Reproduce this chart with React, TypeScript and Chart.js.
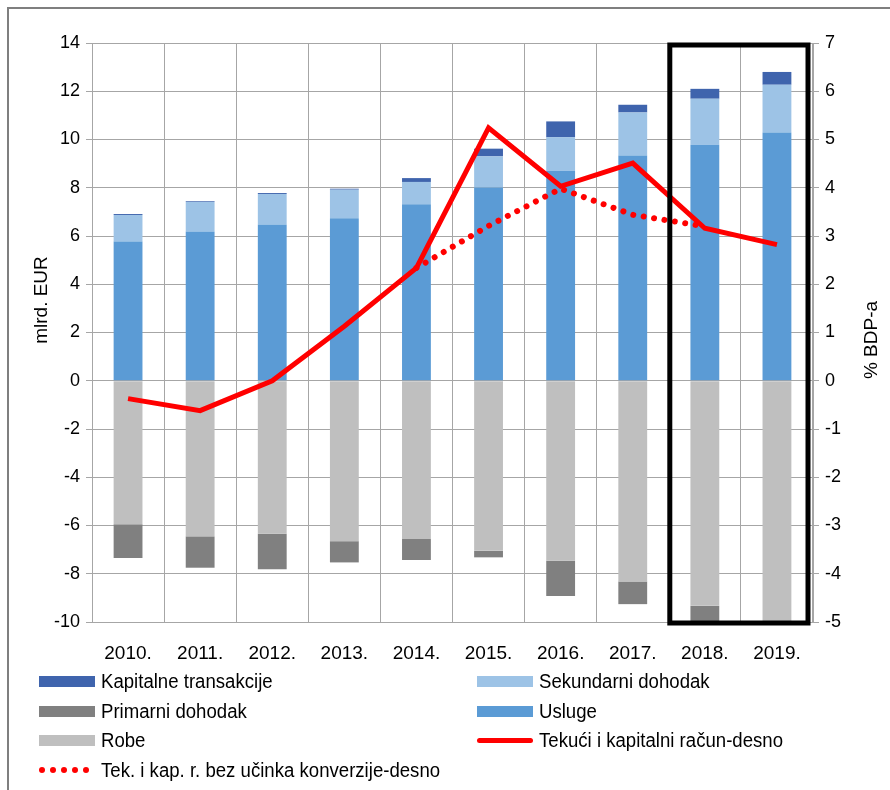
import React, { useEffect, useRef } from "react";
import { Chart, registerables } from "chart.js";

Chart.register(...registerables);

const years = ["2010.", "2011.", "2012.", "2013.", "2014.", "2015.", "2016.", "2017.", "2018.", "2019."];
const robe = [-5.95, -6.45, -6.34, -6.65, -6.56, -7.05, -7.46, -8.32, -9.33, -10.4];
const primarni = [-1.4, -1.3, -1.47, -0.88, -0.87, -0.27, -1.46, -0.94, -0.8, -0.6];
const usluge = [5.77, 6.19, 6.48, 6.74, 7.32, 8.01, 8.7, 9.34, 9.78, 10.29];
const sekundarni = [1.1, 1.22, 1.26, 1.18, 0.92, 1.29, 1.39, 1.78, 1.91, 1.98];
const kapitalne = [0.04, 0.03, 0.04, 0.04, 0.16, 0.32, 0.66, 0.32, 0.41, 0.53];
const tekuci = [-0.37, -0.62, 0.0, 1.13, 2.34, 5.24, 4.03, 4.51, 3.16, 2.82];
const bezKonverzije = [null, null, null, null, 2.34, 3.21, 3.98, 3.44, 3.2, null];

const leftTitle = "mlrd. EUR";
const rightTitle = "% BDP-a";

const FONT = "'Liberation Sans Narrow', 'Liberation Sans', Arial, sans-serif";

const C_KAP = "#3F64AD";
const C_SEK = "#9DC3E6";
const C_PRIM = "#808080";
const C_USL = "#5B9BD5";
const C_ROBE = "#BFBFBF";
const C_RED = "#FF0000";

const overlay = {
  id: "overlay",
  afterDatasetsDraw(chart: any) {
    const { ctx, chartArea, scales } = chart;
    const x = scales.x;
    const c7 = x.getPixelForValue(7);
    const c8 = x.getPixelForValue(8);
    const left = (c7 + c8) / 2 + 1;
    const right = chartArea.right - 5;
    const top = chartArea.top + 2;
    const bottom = chartArea.bottom + 1;
    ctx.save();
    ctx.strokeStyle = "#000";
    ctx.lineWidth = 5;
    ctx.strokeRect(left, top, right - left, bottom - top);
    ctx.restore();
  },
  afterDraw(chart: any) {
    const { ctx } = chart;
    ctx.save();
    ctx.fillStyle = "#000";
    ctx.font = `19px ${FONT}`;
    ctx.textAlign = "center";
    ctx.textBaseline = "middle";
    ctx.translate(42, 300);
    ctx.rotate(-Math.PI / 2);
    ctx.fillText(leftTitle, 0, 0);
    ctx.restore();
    ctx.save();
    ctx.fillStyle = "#000";
    ctx.font = `19px ${FONT}`;
    ctx.textAlign = "center";
    ctx.textBaseline = "middle";
    ctx.translate(872, 340);
    ctx.rotate(-Math.PI / 2);
    ctx.fillText(rightTitle, 0, 0);
    ctx.restore();
  },
};

const legendItems = [
  { label: "Kapitalne transakcije", type: "box", color: C_KAP, x: 39, y: 681 },
  { label: "Sekundarni dohodak", type: "box", color: C_SEK, x: 477, y: 681 },
  { label: "Primarni dohodak", type: "box", color: C_PRIM, x: 39, y: 711 },
  { label: "Usluge", type: "box", color: C_USL, x: 477, y: 711 },
  { label: "Robe", type: "box", color: C_ROBE, x: 39, y: 740 },
  { label: "Tekući i kapitalni račun-desno", type: "line", color: C_RED, x: 477, y: 740 },
  { label: "Tek. i kap. r. bez učinka konverzije-desno", type: "dots", color: C_RED, x: 39, y: 770 },
];

function LegendSwatch({ type, color }: { type: string; color: string }) {
  if (type === "box") {
    return <div style={{ width: 56, height: 11, background: color, flex: "none" }} />;
  }
  if (type === "line") {
    return <div style={{ width: 56, height: 5, background: color, borderRadius: 3, flex: "none" }} />;
  }
  return (
    <div style={{ width: 56, height: 6, display: "flex", justifyContent: "space-between", paddingRight: 6, boxSizing: "border-box", flex: "none" }}>
      {[0, 1, 2, 3, 4].map((i) => (
        <div key={i} style={{ width: 6, height: 6, borderRadius: 3, background: color }} />
      ))}
    </div>
  );
}

export default function App() {
  const canvasRef = useRef<HTMLCanvasElement | null>(null);

  useEffect(() => {
    const canvas = canvasRef.current;
    if (!canvas) return;
    const barCommon = {
      type: "bar" as const,
      yAxisID: "y",
      stack: "s",
      barPercentage: 0.4,
      categoryPercentage: 1,
      order: 3,
      borderWidth: 0,
    };
    const chart = new Chart(canvas, {
      type: "bar",
      data: {
        labels: years,
        datasets: [
          { ...barCommon, label: "Robe", data: robe, backgroundColor: C_ROBE },
          { ...barCommon, label: "Usluge", data: usluge, backgroundColor: C_USL },
          { ...barCommon, label: "Primarni dohodak", data: primarni, backgroundColor: C_PRIM },
          { ...barCommon, label: "Sekundarni dohodak", data: sekundarni, backgroundColor: C_SEK },
          { ...barCommon, label: "Kapitalne transakcije", data: kapitalne, backgroundColor: C_KAP },
          {
            type: "line" as const,
            label: "Tek. i kap. r. bez učinka konverzije-desno",
            data: bezKonverzije as any,
            yAxisID: "y1",
            borderColor: C_RED,
            borderWidth: 6,
            borderDash: [0.01, 10.5],
            borderCapStyle: "round",
            pointRadius: 0,
            order: 2,
            spanGaps: false,
          } as any,
          {
            type: "line" as const,
            label: "Tekući i kapitalni račun-desno",
            data: tekuci,
            yAxisID: "y1",
            borderColor: C_RED,
            borderWidth: 5,
            pointRadius: 0,
            order: 1,
          } as any,
        ],
      },
      options: {
        animation: false,
        responsive: false,
        maintainAspectRatio: false,
        layout: { padding: { top: 43, left: 0, right: 0, bottom: 0 } },
        plugins: {
          legend: { display: false },
          tooltip: { enabled: false },
          title: { display: false },
        },
        scales: {
          x: {
            stacked: true,
            offset: true,
            grid: { display: true, color: "#A6A6A6", lineWidth: 1, offset: true, drawTicks: false },
            border: { display: true, color: "#A6A6A6" },
            ticks: { color: "#000", font: { family: FONT, size: 19 }, padding: 20, maxRotation: 0 },
            afterFit(scale: any) {
              scale.height = 168;
            },
          },
          y: {
            position: "left",
            stacked: true,
            min: -10,
            max: 14,
            ticks: { stepSize: 2, color: "#000", font: { family: FONT, size: 18 }, padding: 6 },
            grid: { color: "#A6A6A6", lineWidth: 1, tickLength: 6 },
            border: { display: true, color: "#A6A6A6" },
            afterFit(scale: any) {
              scale.width = 92;
            },
          },
          y1: {
            position: "right",
            min: -5,
            max: 7,
            ticks: { stepSize: 1, color: "#000", font: { family: FONT, size: 18 }, padding: 6 },
            grid: { drawOnChartArea: false, color: "#A6A6A6", tickLength: 6 },
            border: { display: true, color: "#A6A6A6" },
            afterFit(scale: any) {
              scale.width = 77;
            },
          },
        },
      },
      plugins: [overlay],
    });
    return () => chart.destroy();
  }, []);

  return (
    <div style={{ position: "fixed", left: 0, top: 0, width: 890, height: 790, background: "#fff", overflow: "hidden" }}>
      <div
        style={{
          position: "absolute",
          left: 7,
          top: 7,
          width: 900,
          height: 800,
          borderTop: "2px solid #7F7F7F",
          borderLeft: "2px solid #7F7F7F",
        }}
      />
      <canvas ref={canvasRef} width={890} height={790} style={{ position: "absolute", left: 0, top: 0, width: 890, height: 790 }} />
      {legendItems.map((it, i) => (
        <div
          key={i}
          style={{
            position: "absolute",
            left: it.x,
            top: it.y - 12,
            height: 24,
            display: "flex",
            alignItems: "center",
            fontFamily: FONT,
            color: "#000",
            whiteSpace: "nowrap",
          }}
        >
          <LegendSwatch type={it.type} color={it.color} />
          <span
            style={{
              marginLeft: 6,
              fontSize: 20,
              display: "inline-block",
              transform: "scaleX(0.93)",
              transformOrigin: "left center",
            }}
          >
            {it.label}
          </span>
        </div>
      ))}
    </div>
  );
}
